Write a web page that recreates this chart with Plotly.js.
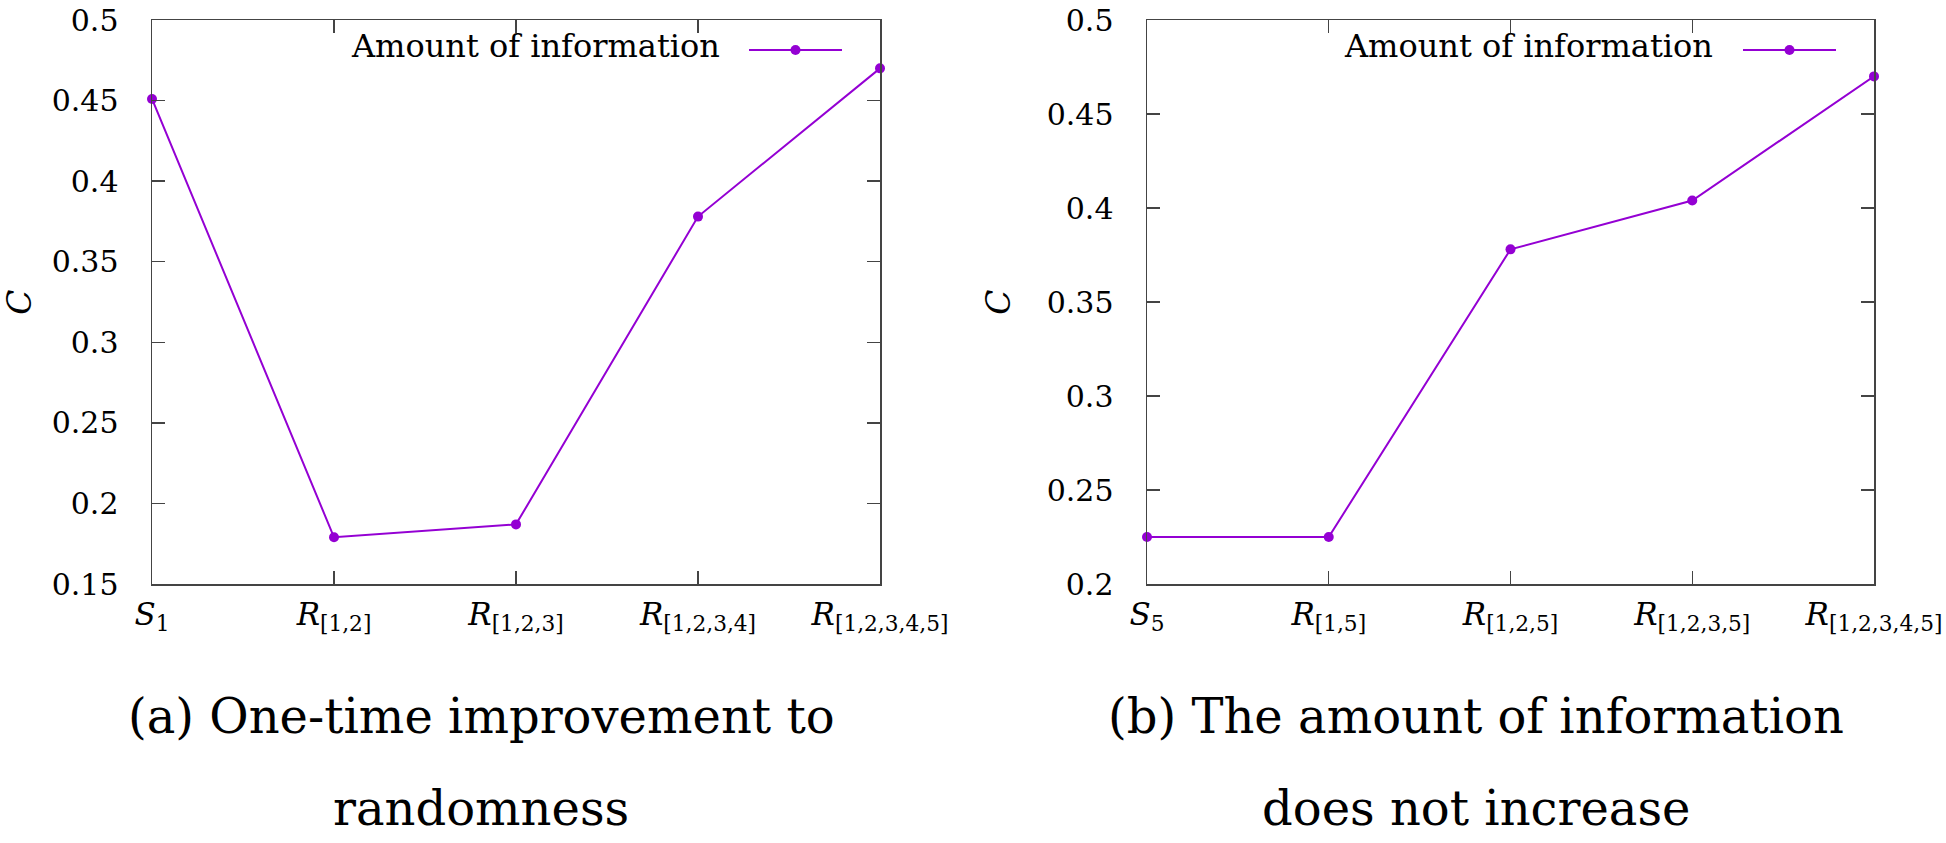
<!DOCTYPE html>
<html>
<head>
<meta charset="utf-8">
<script src="https://cdn.plot.ly/plotly-3.0.1.min.js"></script>
<style>
  html, body { margin: 0; padding: 0; background: #ffffff; }
  #chart { width: 1946px; height: 843px; }
</style>
</head>
<body>
<div id="chart"></div>
<script>
// ---- data ----
const categoriesA = ["<i>S</i><sub>1</sub>", "<i>R</i><sub>[1,2]</sub>", "<i>R</i><sub>[1,2,3]</sub>", "<i>R</i><sub>[1,2,3,4]</sub>", "<i>R</i><sub>[1,2,3,4,5]</sub>"];
const valuesA = [0.451, 0.179, 0.187, 0.378, 0.470];
const categoriesB = ["<i>S</i><sub>5</sub>", "<i>R</i><sub>[1,5]</sub>", "<i>R</i><sub>[1,2,5]</sub>", "<i>R</i><sub>[1,2,3,5]</sub>", "<i>R</i><sub>[1,2,3,4,5]</sub>"];
const valuesB = [0.225, 0.225, 0.378, 0.404, 0.470];
const seriesName = "Amount of information";
const yTitle = "C";
const captionA = ["(a) One-time improvement to", "randomness"];
const captionB = ["(b) The amount of information", "does not increase"];

// ---- styling ----
const W = 1946, H = 843;
const LINE = "#9400D3";
const FONT = "DejaVu Serif";
const plotTop = 20, plotBottom = 584;
const py = y => (plotBottom - y) / (plotBottom - plotTop);
const px = x => x / W;

function trace(cats, vals, xa, ya) {
  return {
    x: cats, y: vals, xaxis: xa, yaxis: ya, name: seriesName,
    type: "scatter", mode: "lines+markers",
    line: { color: LINE, width: 2 },
    marker: { color: LINE, size: 10 },
    showlegend: false, cliponaxis: false, hoverinfo: "x+y"
  };
}

const axisCommon = {
  showline: true, linecolor: "#444", linewidth: 1.5, mirror: "allticks",
  ticks: "inside", ticklen: 13, tickwidth: 1.3, tickcolor: "#444",
  showgrid: false, zeroline: false,
  tickfont: { family: FONT, size: 30, color: "#000" }
};

function xAxis(domain, anchor, cats) {
  return Object.assign({}, axisCommon, {
    domain: domain, anchor: anchor, type: "category",
    categoryorder: "array", categoryarray: cats,
    range: [0, cats.length - 1], ticklabelstandoff: 2,
    tickfont: { family: FONT, size: 31, color: "#000" }
  });
}
function yAxis(range, anchor) {
  return Object.assign({}, axisCommon, {
    domain: [0, 1], anchor: anchor, range: range, dtick: 0.05, tick0: 0,
    ticklabelstandoff: 26,
    title: { text: "<i>" + yTitle + "</i>", font: { family: FONT, size: 33, color: "#000" }, standoff: 26 }
  });
}

const data = [
  trace(categoriesA, valuesA, "x", "y"),
  trace(categoriesB, valuesB, "x2", "y2")
];

function legendParts(textRight, lineX0, lineX1) {
  const ann = {
    xref: "paper", yref: "paper", x: px(textRight), y: py(46),
    xanchor: "right", yanchor: "middle", showarrow: false,
    text: seriesName, font: { family: FONT, size: 32, color: "#000" }
  };
  const mid = (lineX0 + lineX1) / 2;
  const shapes = [
    { type: "line", xref: "paper", yref: "paper", x0: px(lineX0), x1: px(lineX1), y0: py(50), y1: py(50),
      line: { color: LINE, width: 2 } },
    { type: "circle", xref: "paper", yref: "paper", xsizemode: "pixel", ysizemode: "pixel",
      xanchor: px(mid), yanchor: py(50), x0: -5, x1: 5, y0: -5, y1: 5,
      fillcolor: LINE, line: { color: LINE, width: 0 } }
  ];
  return { ann, shapes };
}
const legA = legendParts(722, 749, 842);
const legB = legendParts(1715, 1743, 1836);

function caption(lines, cx) {
  return lines.map((t, i) => ({
    xref: "paper", yref: "paper", x: px(cx), y: py(i === 0 ? 716 : 808),
    xanchor: "center", yanchor: "middle", showarrow: false,
    text: t, font: { family: FONT, size: 48, color: "#000" }
  }));
}

const layout = {
  width: W, height: H,
  margin: { l: 0, r: 0, t: plotTop, b: H - plotBottom, pad: 0 },
  paper_bgcolor: "#fff", plot_bgcolor: "#fff",
  showlegend: false,
  font: { family: FONT, color: "#000" },
  xaxis: xAxis([152 / W, 880 / W], "y", categoriesA),
  yaxis: yAxis([0.15, 0.5], "x"),
  xaxis2: xAxis([1147 / W, 1874 / W], "y2", categoriesB),
  yaxis2: yAxis([0.2, 0.5], "x2"),
  annotations: [legA.ann, legB.ann].concat(caption(captionA, 481), caption(captionB, 1476)),
  shapes: legA.shapes.concat(legB.shapes)
};

Plotly.newPlot("chart", data, layout, { displayModeBar: false, staticPlot: true });
</script>
</body>
</html>
